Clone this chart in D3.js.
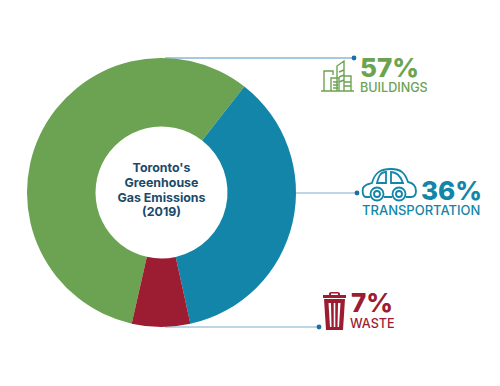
<!DOCTYPE html>
<html>
<head>
  <meta charset="utf-8" />
  <title>Toronto's Greenhouse Gas Emissions (2019)</title>
  <script src="https://cdn.jsdelivr.net/npm/d3@7"></script>
  <style>
    html, body { margin: 0; background: #fff; }
    svg { display: block; }
    text { font-family: Inter, "Open Sans", sans-serif; }
  </style>
</head>
<body>
  <div id="chart"></div>
  <script>
    const categories = ["Buildings", "Transportation", "Waste"];
    const shares = [57, 36, 7];
    const labels = ["57%", "36%", "7%"];
    const names = ["BUILDINGS", "TRANSPORTATION", "WASTE"];
    const colours = ["#6ca352", "#1285a8", "#9c1c31"];
    const titleLines = ["Toronto's", "Greenhouse", "Gas Emissions", "(2019)"];

    const width = 500, height = 386;
    const cx = 161.5, cy = 192.5;
    const outer = 134.5, inner = 66;

    const svg = d3.select("#chart").append("svg")
      .attr("width", width)
      .attr("height", height);

    // leader lines go under the donut
    const lines = svg.append("g");
    const leader = (x1, y, x2, col, w) => {
      lines.append("line").attr("x1", x1).attr("x2", x2).attr("y1", y).attr("y2", y)
        .attr("stroke", col).attr("stroke-width", w);
      lines.append("circle").attr("cx", x2).attr("cy", y).attr("r", 2.4).attr("fill", "#1a6fa8");
    };
    leader(165, 58, 354, "#4a94c4", 1);
    leader(290, 193, 357, "#a9c8da", 1.3);
    leader(165, 327, 319, "#a9c8da", 1.3);

    const pie = d3.pie().sort(null)
      .startAngle(192.8 * Math.PI / 180)
      .endAngle((192.8 + 360) * Math.PI / 180);
    const arc = d3.arc().innerRadius(inner).outerRadius(outer);

    svg.append("g")
      .attr("transform", `translate(${cx},${cy})`)
      .selectAll("path")
      .data(pie(shares))
      .join("path")
      .attr("d", arc)
      .attr("fill", (d, i) => colours[i])
      .append("title").text((d, i) => categories[i]);

    svg.append("g").selectAll("text")
      .data(titleLines)
      .join("text")
      .attr("x", cx)
      .attr("y", (d, i) => 172 + i * 14.8)
      .attr("text-anchor", "middle")
      .attr("font-size", 12.4)
      .attr("font-weight", 700)
      .attr("fill", "#1b4a6b")
      .text(d => d);

    // value + name blocks
    const blocks = [
      { x: 360, yv: 77, xn: 360, yn: 92, nsize: 12.6 },
      { x: 421, yv: 200, xn: 362, yn: 215, nsize: 13 },
      { x: 351, yv: 312, xn: 350, yn: 328, nsize: 12.6 }
    ];
    blocks.forEach((b, i) => {
      svg.append("text").attr("x", b.x).attr("y", b.yv)
        .attr("font-size", 26).attr("font-weight", 800)
        .attr("fill", colours[i]).text(labels[i]);
      svg.append("text").attr("x", b.xn).attr("y", b.yn)
        .attr("font-size", b.nsize).attr("font-weight", 500)
        .attr("fill", colours[i]).text(names[i]);
    });

    // icons
    const bld = svg.append("g").attr("fill", "none").attr("stroke", colours[0]).attr("stroke-width", 1.4);
    bld.append("path").attr("d", "M321 91H354M324 91V71H333V75M337 91V66L344 61V91M344 70L339 72M344 75L339 77M344 80L339 82M344 76H351V91M344 82H351M344 86H351M331 91V78H339V91M333 82H338M333 85H338M333 88H338");

    const car = svg.append("g").attr("fill", "none").attr("stroke", colours[1]).attr("stroke-width", 1.8);
    car.append("path").attr("d", "M370 197H366C363 197 362 192 363 188C365 184 369 184 372 183C375 172 381 169 391 169C401 169 405 173 408 182C413 183 416 186 416 191C416 195 414 197 411 197H406M392 197H384");
    car.append("path").attr("d", "M377 183C379 175 381 172 386 172V183ZM391 172C396 172 400 175 403 183H391Z");
    car.append("circle").attr("cx", 377).attr("cy", 194).attr("r", 6.5);
    car.append("circle").attr("cx", 377).attr("cy", 194).attr("r", 3);
    car.append("circle").attr("cx", 399).attr("cy", 194).attr("r", 6.5);
    car.append("circle").attr("cx", 399).attr("cy", 194).attr("r", 3);

    const bin = svg.append("g").attr("fill", colours[2]);
    bin.append("path").attr("d", "M323 295H346V298H323ZM329 295V294C329 292 331 292 334.500 292C338 292 340 292 340 294V295H338V293.500H331V295Z");
    bin.append("path").attr("fill-rule", "evenodd").attr("d", "M324 299H345L343 330H326ZM328.500 303L330 327H331.500L331 303ZM333.700 303V327H335.300V303ZM338 303L337.500 327H339L340.500 303Z");
  </script>
</body>
</html>
